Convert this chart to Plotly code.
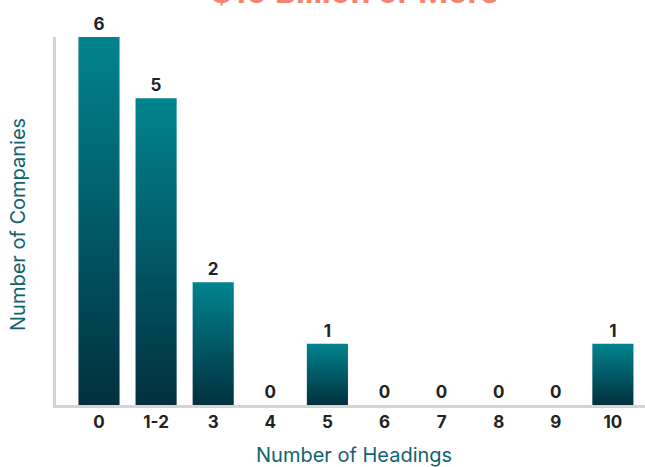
import plotly.graph_objects as go

categories = ["0", "1-2", "3", "4", "5", "6", "7", "8", "9", "10"]
companies = [6, 5, 2, 0, 1, 0, 0, 0, 0, 1]
title_text = "$10 Billion or More"
x_title = "Number of Headings"
y_title = "Number of Companies"

BAR_W = 0.72
TOP_COLOR = "#00848f"
BOTTOM_COLOR = "#02303e"
FONT = "Inter"

idx = list(range(len(categories)))

fig = go.Figure()
fig.add_trace(go.Bar(
    x=idx, y=companies, width=BAR_W,
    marker=dict(color="rgba(0,0,0,0)", line=dict(width=0)),
    text=[str(v) for v in companies], textposition="outside",
    textfont=dict(family=FONT, size=17, color="#222222", weight="bold"),
    cliponaxis=False, showlegend=False, hoverinfo="skip",
))

# gradient bodies, one per bar, built from the same data
for i, v in zip(idx, companies):
    if v <= 0:
        continue
    x0, x1 = i - BAR_W / 2, i + BAR_W / 2
    fig.add_trace(go.Scatter(
        x=[x0, x1, x1, x0, x0], y=[0, 0, v, v, 0],
        mode="lines", fill="toself", line=dict(width=0),
        fillgradient=dict(type="vertical",
                          colorscale=[[0, BOTTOM_COLOR], [1, TOP_COLOR]]),
        showlegend=False, hoverinfo="skip",
    ))

L, T, B = 56, 37, 405
W, H = 645, 467
plot_w = W - L
plot_h = B - T

fig.update_layout(
    width=W, height=H,
    margin=dict(l=L, r=0, t=T, b=H - B, pad=0),
    plot_bgcolor="white", paper_bgcolor="white",
    showlegend=False,
    xaxis=dict(
        range=[-0.753, -0.753 + plot_w / 57.1], tickvals=idx, ticktext=categories,
        showgrid=False, zeroline=False,
        showline=True, linecolor="#d4d4d4", linewidth=3,
        ticks="",
        tickfont=dict(family=FONT, size=17, color="#222222", weight="bold"),
    ),
    yaxis=dict(
        range=[0, 6], showgrid=False, zeroline=False,
        showline=True, linecolor="#d4d4d4", linewidth=3,
        showticklabels=False, ticks="",
    ),
    annotations=[
        dict(text=title_text, xref="paper", yref="paper", x=(355 - 56) / plot_w,
             y=1, yshift=24, xanchor="center", yanchor="bottom", showarrow=False,
             font=dict(family=FONT, size=32, color="#f5836f", weight="bold")),
        dict(text=x_title, xref="paper", yref="paper", x=(354 - 56) / plot_w,
             y=0, yshift=-50, xanchor="center", yanchor="middle", showarrow=False,
             font=dict(family=FONT, size=20, color="#11636f")),
        dict(text=y_title, xref="paper", yref="paper", x=0, xshift=-(56 - 18),
             y=(405 - 225) / plot_h, textangle=-90, xanchor="center", yanchor="middle",
             showarrow=False,
             font=dict(family=FONT, size=20, color="#11636f")),
    ],
)

fig.write_html(
    "out.html",
    config={"displayModeBar": False},
    post_script="document.body.style.margin='0';document.body.style.overflow='hidden';",
)
